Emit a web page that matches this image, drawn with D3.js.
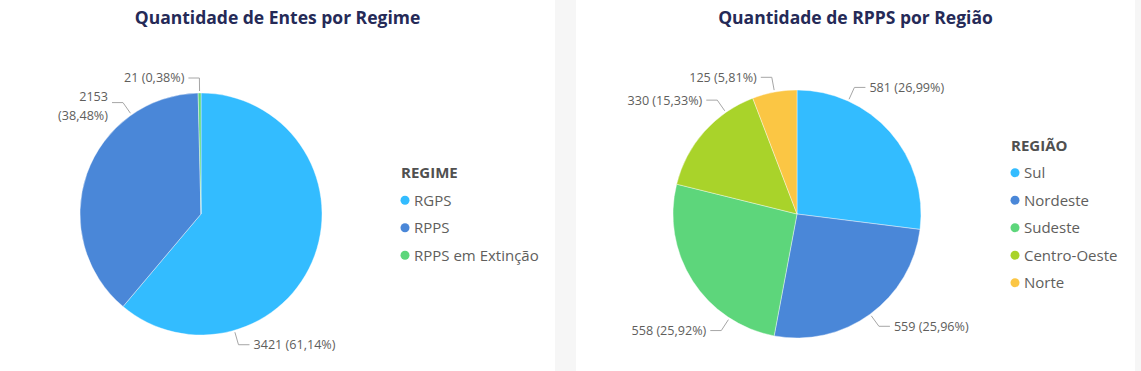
<!DOCTYPE html>
<html>
<head>
<meta charset="utf-8">
<script src="https://cdn.jsdelivr.net/npm/d3@7"></script>
<style>
  body { margin: 0; background: #f6f6f6; }
  svg { display: block; font-family: "Open Sans", "Segoe UI", sans-serif; }
</style>
</head>
<body>
<div id="chart"></div>
<script>
// --- data ---
const regimeTitle = "Quantidade de Entes por Regime";
const regimeLegendTitle = "REGIME";
const regimeCategories = ["RGPS", "RPPS", "RPPS em Extinção"];
const regimeValues = [3421, 2153, 21];

const regiaoTitle = "Quantidade de RPPS por Região";
const regiaoLegendTitle = "REGIÃO";
const regiaoCategories = ["Sul", "Nordeste", "Sudeste", "Centro-Oeste", "Norte"];
const regiaoValues = [581, 559, 558, 330, 125];

const regimeColors = ["#33bcff", "#4a87d8", "#5dd67b"];
const regiaoColors = ["#33bcff", "#4a87d8", "#5dd67b", "#a9d32a", "#fbc644"];

const W = 1141, H = 371;

const svg = d3.select("#chart").append("svg")
  .attr("width", W)
  .attr("height", H);

svg.append("rect").attr("width", W).attr("height", H).attr("fill", "#f6f6f6");

// label placement (angle in degrees where the leader touches the slice)
const charts = [
  {
    panel: { x: 0, w: 555 },
    title: regimeTitle, legendTitle: regimeLegendTitle,
    cats: regimeCategories, vals: regimeValues, colors: regimeColors,
    cx: 201, cy: 214, r: 121,
    legendX: 405,
    labelAngles: [164, 325, null],
    wrap: [false, true, false]
  },
  {
    panel: { x: 576, w: 559 },
    title: regiaoTitle, legendTitle: regiaoLegendTitle,
    cats: regiaoCategories, vals: regiaoValues, colors: regiaoColors,
    cx: 797, cy: 214, r: 124,
    legendX: 1015,
    labelAngles: [24.4, null, 213, 325, null],
    wrap: [false, false, false, false, false]
  }
];

const fmtPct = v => (v * 100).toFixed(2).replace(".", ",") + "%";

charts.forEach(c => {
  // panel
  svg.append("rect")
    .attr("x", c.panel.x).attr("y", -10)
    .attr("width", c.panel.w).attr("height", H + 20)
    .attr("rx", 9)
    .attr("fill", "#fff");

  // title
  svg.append("text")
    .attr("x", c.panel.x + c.panel.w / 2)
    .attr("y", 24)
    .attr("text-anchor", "middle")
    .style("font-size", "17.5px")
    .style("font-weight", "bold")
    .style("fill", "#252a57")
    .text(c.title);

  const total = d3.sum(c.vals);
  const color = d3.scaleOrdinal().domain(c.cats).range(c.colors);
  const pie = d3.pie().sort(null).value(d => d.v);
  const arcs = pie(c.cats.map((k, i) => ({ k, v: c.vals[i] })));
  const arc = d3.arc().innerRadius(0).outerRadius(c.r);

  const g = svg.append("g").attr("transform", `translate(${c.cx},${c.cy})`);

  g.selectAll("path")
    .data(arcs)
    .enter()
    .append("path")
    .attr("d", arc)
    .attr("fill", d => color(d.data.k))
    .attr("stroke", "#fff")
    .attr("stroke-width", 0.4);

  // data labels with leader lines
  arcs.forEach((d, i) => {
    const deg = c.labelAngles[i] != null ? c.labelAngles[i] : (d.startAngle + d.endAngle) / 2 * 180 / Math.PI;
    const a = deg * Math.PI / 180;
    const p0 = [Math.sin(a) * (c.r + 2), -Math.cos(a) * (c.r + 2)];
    const p1 = [Math.sin(a) * (c.r + 15), -Math.cos(a) * (c.r + 15)];
    const side = Math.sin(a) >= 0 ? 1 : -1;
    const p2 = [p1[0] + side * 11, p1[1]];

    g.append("polyline")
      .attr("points", [p0, p1, p2].map(p => p.join(",")).join(" "))
      .attr("fill", "none")
      .attr("stroke", "#a6a6a6")
      .attr("stroke-width", 1);

    const txt = `${d.data.v} (${fmtPct(d.data.v / total)})`;
    const t = g.append("text")
      .attr("x", p2[0] + side * 4)
      .attr("y", p2[1])
      .attr("text-anchor", side > 0 ? "start" : "end")
      .style("font-size", "12.6px")
      .style("fill", "#605e5c");

    if (c.wrap[i]) {
      t.append("tspan").attr("x", p2[0] + side * 4).attr("dy", "-0.15em").text(d.data.v);
      t.append("tspan").attr("x", p2[0] + side * 4).attr("dy", "1.5em").text(`(${fmtPct(d.data.v / total)})`);
    } else {
      t.attr("dy", "0.35em").text(txt);
    }
  });

  // legend, centred on the pie
  const step = 27.5;
  const top = c.cy - step * c.cats.length / 2;
  const lg = svg.append("g");

  lg.append("text")
    .attr("x", c.legendX - 4)
    .attr("y", top)
    .attr("dy", "0.35em")
    .style("font-size", "15px")
    .style("font-weight", "bold")
    .style("fill", "#505050")
    .text(c.legendTitle);

  c.cats.forEach((k, i) => {
    const y = top + step * (i + 1);
    lg.append("circle")
      .attr("cx", c.legendX)
      .attr("cy", y)
      .attr("r", 4.5)
      .attr("fill", color(k));
    lg.append("text")
      .attr("x", c.legendX + 9)
      .attr("y", y)
      .attr("dy", "0.35em")
      .style("font-size", "15px")
      .style("fill", "#605e5c")
      .text(k);
  });
});
</script>
</body>
</html>
